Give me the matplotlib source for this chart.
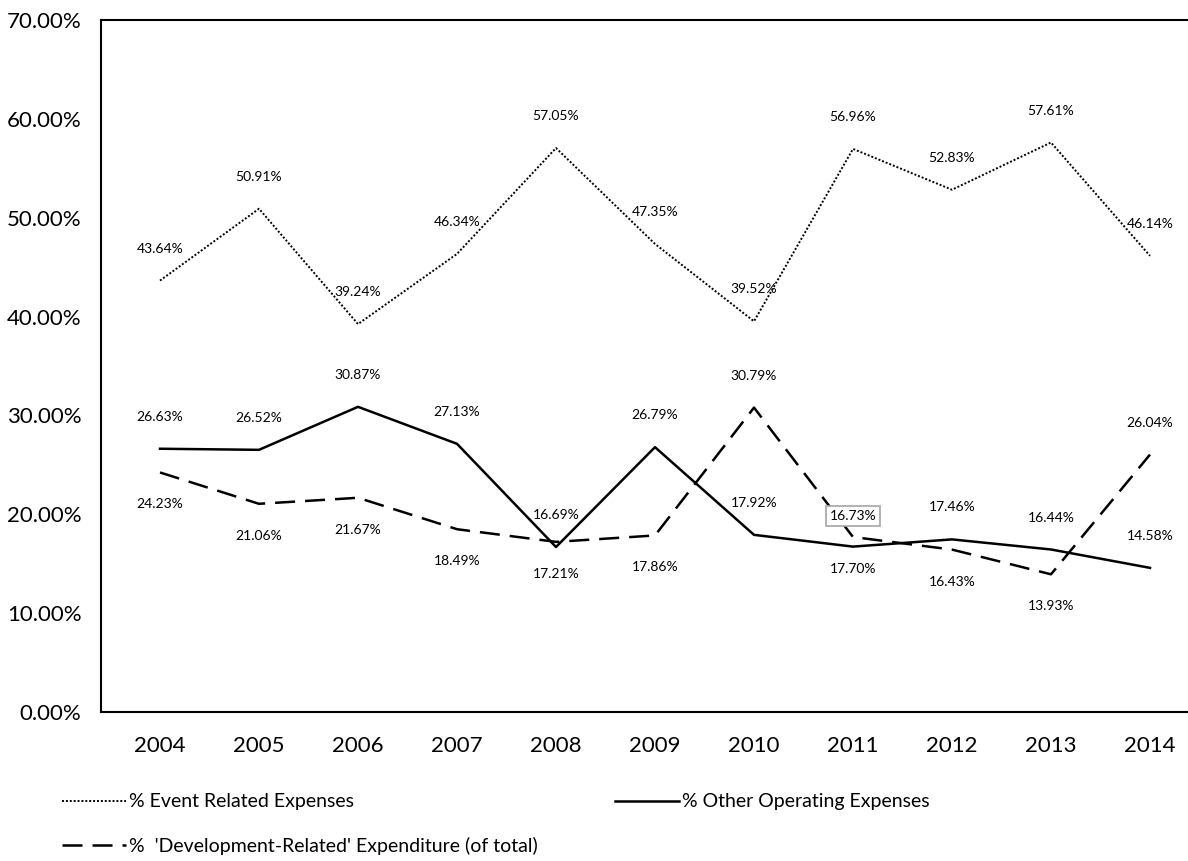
import matplotlib.pyplot as plt

years = [2004, 2005, 2006, 2007, 2008, 2009, 2010, 2011, 2012, 2013, 2014]
event = [43.64, 50.91, 39.24, 46.34, 57.05, 47.35, 39.52, 56.96, 52.83, 57.61, 46.14]
other = [26.63, 26.52, 30.87, 27.13, 16.69, 26.79, 17.92, 16.73, 17.46, 16.44, 14.58]
dev = [24.23, 21.06, 21.67, 18.49, 17.21, 17.86, 30.79, 17.70, 16.43, 13.93, 26.04]
# label above (+1) or below (-1) for the development series
dev_side = [-1, -1, -1, -1, -1, -1, 1, -1, -1, -1, 1]
yticks = [0, 10, 20, 30, 40, 50, 60, 70]

plt.rcParams['font.family'] = ['Lato', 'DejaVu Sans']

fig = plt.figure(figsize=(11.88, 8.61), dpi=100)
ax = fig.add_axes([101/1188, 1 - 712/861, 1 - 101/1188, (712 - 20)/861])

l1, = ax.plot(years, event, color='black', linestyle=(0, (1, 1)), linewidth=1.4,
              label='% Event Related Expenses')
l2, = ax.plot(years, other, color='black', linestyle='-', linewidth=1.8,
              label='% Other Operating Expenses')
l3, = ax.plot(years, dev, color='black', linestyle=(0, (8, 4)), linewidth=1.8,
              label="%  'Development-Related' Expenditure (of total)")

lab = dict(fontsize=10, ha='center', va='center', textcoords='offset points')
for x, v in zip(years, event):
    ax.annotate(f'{v:.2f}%', (x, v), xytext=(0, 23), **lab)
for x, v in zip(years, other):
    if x == 2011:
        ax.annotate(f'{v:.2f}%', (x, v), xytext=(0, 22),
                    bbox=dict(boxstyle='square,pad=0.3', fc='white', ec='#a6a6a6', lw=1.2), **lab)
    else:
        ax.annotate(f'{v:.2f}%', (x, v), xytext=(0, 23), **lab)
for x, v, s in zip(years, dev, dev_side):
    ax.annotate(f'{v:.2f}%', (x, v), xytext=(0, 23 * s), **lab)

ax.set_xlim(2004 - 59/99, 2014 + 38/99)
ax.set_ylim(0, 70)
ax.set_yticks(yticks)
ax.set_yticklabels([f'{t:.2f}%' for t in yticks])
ax.set_xticks(years)
ax.set_xticklabels([str(y) for y in years])
ax.tick_params(length=0, labelsize=16)
ax.tick_params(axis='x', pad=17)
ax.tick_params(axis='y', pad=14)
for s in ['left', 'bottom', 'top']:
    ax.spines[s].set_linewidth(1.5)
    ax.spines[s].set_color('black')
ax.spines['right'].set_visible(False)

fig.legend(handles=[l1, l3, l2], ncol=2, loc='upper left',
           bbox_to_anchor=(44/1188, 1 - 776/861), frameon=False, fontsize=14,
           handlelength=3.3, handletextpad=0.15, columnspacing=4.0, labelspacing=1.35)

fig.savefig('out.png', dpi=100)
